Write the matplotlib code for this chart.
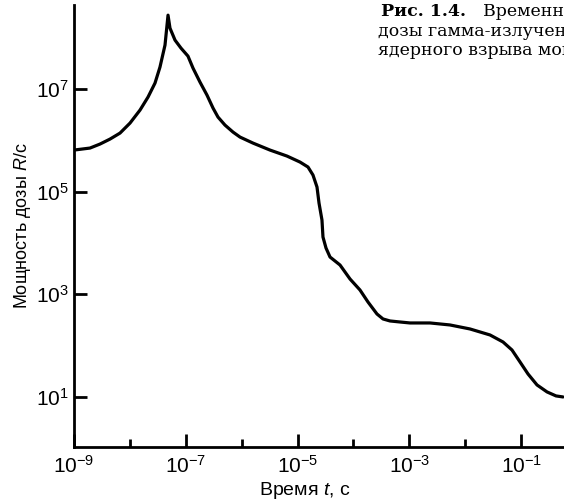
import matplotlib
matplotlib.use("Agg")
import matplotlib.pyplot as plt
import numpy as np

plt.rcParams['font.family'] = ['Liberation Sans', 'DejaVu Sans']
plt.rcParams['mathtext.fontset'] = 'custom'
plt.rcParams['mathtext.rm'] = 'Liberation Sans'
plt.rcParams['mathtext.it'] = 'Liberation Sans:italic'

# log10(время, с) и log10(мощность дозы, R/c)
log_t = [-9.000, -8.714, -8.535, -8.356, -8.177, -7.998, -7.819, -7.676, -7.551,
         -7.462, -7.372, -7.318, -7.283, -7.193, -7.086, -6.961, -6.871, -6.746,
         -6.621, -6.513, -6.424, -6.299, -6.156, -6.030, -5.798, -5.494, -5.190,
         -4.957, -4.814, -4.725, -4.653, -4.617, -4.564, -4.546, -4.492, -4.420,
         -4.241, -4.062, -3.884, -3.741, -3.580, -3.472, -3.347, -3.168, -2.989,
         -2.631, -2.274, -1.916, -1.558, -1.325, -1.165, -1.021, -0.878, -0.717,
         -0.538, -0.377, -0.252]
log_p = [5.811, 5.850, 5.928, 6.025, 6.142, 6.337, 6.591, 6.844, 7.117,
         7.429, 7.858, 8.442, 8.189, 7.955, 7.799, 7.643, 7.409, 7.136,
         6.883, 6.630, 6.454, 6.298, 6.162, 6.064, 5.947, 5.811, 5.694,
         5.577, 5.480, 5.324, 5.090, 4.778, 4.446, 4.115, 3.901, 3.725,
         3.569, 3.296, 3.082, 2.848, 2.614, 2.517, 2.478, 2.458, 2.439,
         2.439, 2.400, 2.322, 2.205, 2.068, 1.912, 1.678, 1.444, 1.230,
         1.094, 1.016, 0.996]

x_major = [-9, -7, -5, -3, -1]
x_minor = [-8, -6, -4, -2]
y_major = [1, 3, 5, 7]

W, H = 564, 503
fig = plt.figure(figsize=(W / 100, H / 100), dpi=100)
# ось выходит за правый край — рисунок обрезан, как в книге
x0, x1 = 74, 74 + 9 * 55.9
ax = fig.add_axes([x0 / W, 1 - 447 / H, (x1 - x0) / W, (447 - 5) / H])

t = 10.0 ** np.array(log_t)
p = 10.0 ** np.array(log_p)
ax.plot(t, p, color='black', linewidth=2.3, solid_joinstyle='round', solid_capstyle='round')

ax.set_xscale('log')
ax.set_yscale('log')
ax.set_xlim(1e-9, 1e0)
ax.set_ylim(10 ** 0.02, 10 ** 8.64)

ax.set_xticks([10.0 ** k for k in x_major])
ax.set_xticklabels([f'10$^{{{k}}}$'.replace('-', '\u2212') for k in x_major])
ax.set_xticks([10.0 ** k for k in x_minor], minor=True)
ax.set_xticklabels([], minor=True)
ax.set_yticks([10.0 ** k for k in y_major])
ax.set_yticklabels([f'10$^{{{k}}}$' for k in y_major])
ax.yaxis.set_minor_locator(matplotlib.ticker.NullLocator())

ax.tick_params(which='major', direction='in', length=9.5, width=2, labelsize=15, pad=6)
ax.tick_params(which='minor', direction='in', length=6, width=2)
ax.tick_params(axis='y', pad=4)

for s in ['top', 'right']:
    ax.spines[s].set_visible(False)
for s in ['left', 'bottom']:
    ax.spines[s].set_linewidth(2)

ax.set_xlabel('Время $\\mathit{t}$, с', fontsize=14)
ax.xaxis.set_label_coords((305 - x0) / (x1 - x0), -0.075)
ax.set_ylabel('Мощность дозы $\\mathit{R}$/с', fontsize=13, labelpad=2)

# подпись к рисунку из книги (обрезана краем)
cap = dict(family='DejaVu Serif', fontsize=12.5, va='baseline', ha='left')
fig.text(381 / W, 1 - 16 / H, 'Рис. 1.4.', weight='bold', **cap)
fig.text(483 / W, 1 - 16 / H, 'Временная зависимость мощности', **cap)
fig.text(378 / W, 1 - 36.5 / H, 'дозы гамма-излучения после', **cap)
fig.text(378 / W, 1 - 55 / H, 'ядерного взрыва мощностью', **cap)

fig.savefig('out.png', dpi=100)
